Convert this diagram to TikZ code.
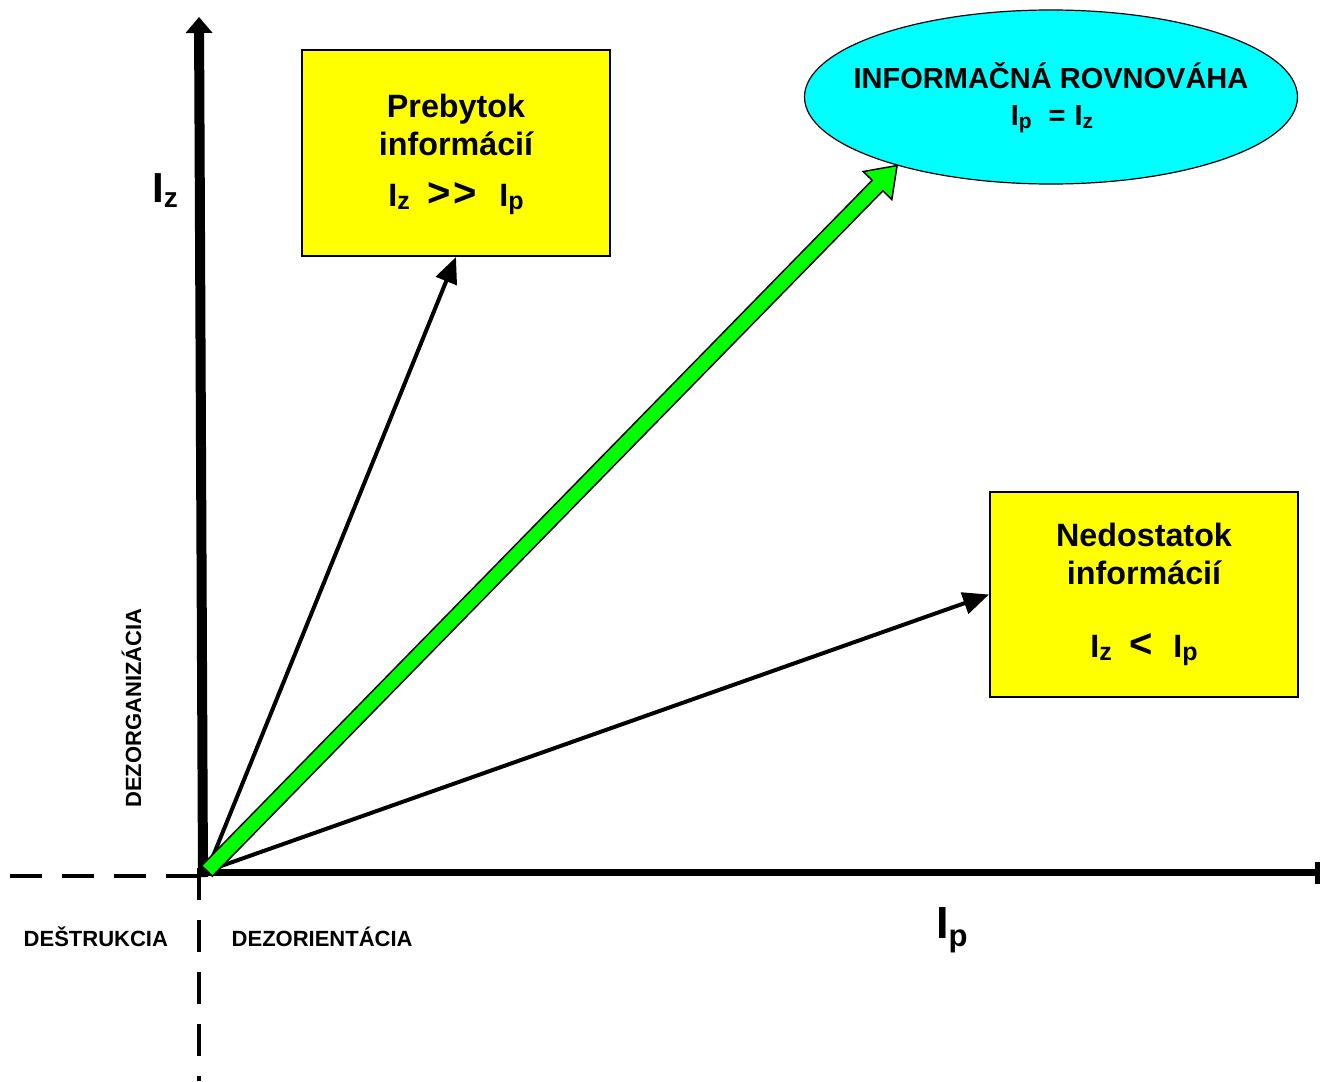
\documentclass[tikz,border=0pt]{standalone}
\usepackage{fontspec}
\setmainfont{Liberation Sans}
\usetikzlibrary{arrows.meta,calc,shapes.geometric}
\definecolor{boxyellow}{RGB}{255,255,0}
\definecolor{ellcyan}{RGB}{0,255,255}
\definecolor{arrgreen}{RGB}{0,255,0}
\newcommand\fsz[1]{\fontsize{#1}{#1}\selectfont\bfseries}
\newcommand\lowsub[3]{\raisebox{-#2}{\fontsize{#1}{#1}\selectfont\bfseries #3}}
\newcommand\bigsym[1]{{\fontsize{40pt}{40pt}\selectfont\bfseries #1}}
\begin{document}
\begin{tikzpicture}[x=1pt,y=-1pt,
  boxstyle/.style={draw=black,line width=2pt,fill=boxyellow,minimum width=308pt,minimum height=206pt,inner sep=0pt},
  ellstyle/.style={ellipse,draw=black,line width=1.2pt,fill=ellcyan,minimum width=493pt,minimum height=174pt,inner sep=0pt},
  boxtxt/.style={inner sep=0pt,anchor=base,font=\fsz{32.3pt}},
  elltxt/.style={inner sep=0pt,anchor=base,font=\fsz{29pt}},
  smalllab/.style={inner sep=0pt,font=\fsz{22pt}},
  axislab/.style={inner sep=0pt,anchor=base west},
  blackarr/.style={line width=4pt,-{Triangle[length=26pt,width=22pt]}},
  dashline/.style={line width=4pt,dash pattern=on 32pt off 20pt},
  greenarr/.style={fill=arrgreen,draw=black,line width=1.5pt,line join=miter}
]
\useasboundingbox (0,0) rectangle (1321,1081);

% boxes and ellipse
\node[boxstyle] (pre) at (456,153) {};
\node[boxstyle,minimum height=205pt] (ned) at (1144,594.5) {};
\node[ellstyle] (ell) at (1051,97) {};

% coordinates
\coordinate (O) at (207,871);
\coordinate (vb) at (203,877);
\coordinate (vt) at (199,17);
\coordinate (hb) at (200,872.5);
\coordinate (he) at (1318,872.5);
\coordinate (dh1) at (198,876);
\coordinate (dh2) at (10,876);
\coordinate (dv1) at (199,868);
\coordinate (dv2) at (199,1081);

% dashed lines
\draw[dashline] (dh1) -- (dh2);
\draw[dashline] (dv1) -- (dv2);

% axes
\draw[line width=7.5pt] (hb) -- (he);
\fill (1315,862) rectangle (1319.5,884);
\draw[line width=10pt,-{Triangle[length=16pt,width=26pt]}] (vb) -- (vt);

% black arrows
\draw[blackarr] (O) -- (pre.south);
\draw[blackarr] (O) -- (ned.west);

% green arrow
\coordinate (gs) at (207,871);
\coordinate (gt) at (ell.204);
\coordinate (ghb) at ($(gt)!28pt!(gs)$);
\filldraw[greenarr]
  ($(gs)!7.5pt!90:(gt)$) -- ($(ghb)!7.5pt!90:(gt)$) -- ($(ghb)!20pt!90:(gt)$) -- (gt)
  -- ($(ghb)!20pt!-90:(gt)$) -- ($(ghb)!7.5pt!-90:(gt)$) -- ($(gs)!7.5pt!-90:(gt)$) -- cycle;

% box texts
\node[boxtxt] (pre1) at (456,117) {Prebytok};
\node[boxtxt] (pre2) at (456,155) {informácií};
\node[boxtxt] (pre3) at (456,206) {I\lowsub{25pt}{3pt}{z}\hspace{18pt}\bigsym{>\hspace{2pt}>}\hspace{23pt}I\lowsub{25pt}{3pt}{p}};

\node[boxtxt] (ned1) at (1144,546) {Nedostatok};
\node[boxtxt] (ned2) at (1144,584) {informácií};
\node[boxtxt] (ned3) at (1144,657) {I\lowsub{25pt}{3pt}{z}\hspace{18pt}\bigsym{<}\hspace{20pt}I\lowsub{25pt}{3pt}{p}};

\node[elltxt] (ell1) at (1051,88) {INFORMAČNÁ ROVNOVÁHA};
\node[elltxt] (ell2) at (1052,125) {I\lowsub{21pt}{3pt}{p}\hspace{17pt}=\hspace{9pt}I\lowsub{21pt}{3pt}{z}};

% axis labels
\node[axislab] (iz) at (152,202) {\fsz{42pt}I\lowsub{28pt}{5pt}{z}};
\node[axislab] (ip) at (936,938) {\fsz{45pt}I\lowsub{31pt}{8pt}{p}};

% region labels
\node[smalllab,anchor=base west] (destr) at (23.5,946) {DEŠTRUKCIA};
\node[smalllab,anchor=base west] (dezor) at (231.5,946) {DEZORIENTÁCIA};
\node[smalllab,rotate=90,anchor=base] (dezorg) at (141,708) {DEZORGANIZÁCIA};
\end{tikzpicture}
\end{document}
